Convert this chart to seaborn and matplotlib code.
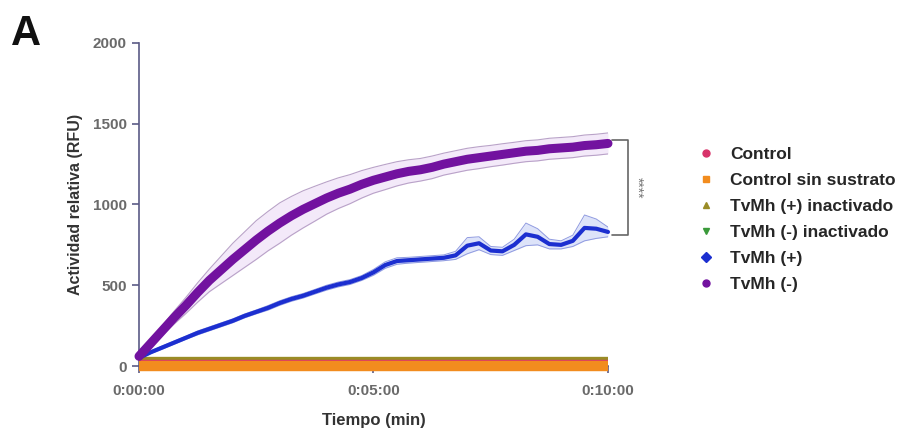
import numpy as np
import pandas as pd
import matplotlib
matplotlib.use("Agg")
import matplotlib.pyplot as plt
import seaborn as sns
from matplotlib.lines import Line2D

# ---- data ----
time_min = [0, 0.25, 0.5, 0.75, 1.0, 1.25, 1.5, 1.75, 2.0, 2.25, 2.5, 2.75, 3.0, 3.25,
            3.5, 3.75, 4.0, 4.25, 4.5, 4.75, 5.0, 5.25, 5.5, 5.75, 6.0, 6.25, 6.5, 6.75,
            7.0, 7.25, 7.5, 7.75, 8.0, 8.25, 8.5, 8.75, 9.0, 9.25, 9.5, 9.75, 10.0]

tvmh_minus = [60, 140, 220, 300, 375, 455, 530, 595, 660, 720, 780, 835, 885, 930,
              970, 1005, 1040, 1070, 1095, 1125, 1150, 1170, 1190, 1205, 1215, 1230, 1250, 1265,
              1280, 1290, 1300, 1310, 1320, 1330, 1335, 1345, 1350, 1355, 1365, 1370, 1378]
tvmh_minus_sd = [10, 20, 30, 40, 50, 60, 70, 85, 100, 110, 120, 122, 125, 120,
                 115, 108, 100, 95, 90, 85, 80, 78, 75, 72, 70, 70, 68, 68,
                 68, 68, 66, 66, 65, 65, 65, 65, 65, 65, 65, 65, 65]

tvmh_plus = [50, 85, 115, 145, 175, 205, 230, 255, 280, 310, 335, 360, 390, 415,
             435, 460, 485, 505, 520, 545, 580, 625, 650, 655, 660, 665, 670, 685,
             745, 760, 715, 710, 750, 815, 800, 755, 750, 775, 855, 850, 830]
tvmh_plus_sd = [5, 8, 10, 10, 10, 12, 12, 12, 12, 12, 12, 14, 14, 14,
                14, 14, 15, 15, 15, 15, 18, 20, 20, 18, 18, 18, 18, 25,
                50, 40, 25, 25, 35, 70, 50, 30, 25, 35, 80, 60, 30]

flat_time = [0, 2.5, 5.0, 7.5, 10.0]
control = [10, 10, 10, 10, 10]
control_sin_sustrato = [0, 0, 0, 0, 0]
tvmh_plus_inact = [32, 32, 32, 32, 32]
tvmh_minus_inact = [25, 25, 25, 25, 25]

series_names = ["Control", "Control sin sustrato", "TvMh (+) inactivado",
                "TvMh (-) inactivado", "TvMh (+)", "TvMh (-)"]
colors = ["#d8336a", "#f28c1e", "#9a8c26", "#3a9a3a", "#1c2fd0", "#72129f"]
markers = ["o", "s", "^", "v", "D", "o"]

x_ticks = [0, 5, 10]
x_ticklabels = ["0:00:00", "0:05:00", "0:10:00"]
y_ticks = [0, 500, 1000, 1500, 2000]

# ---- figure ----
sns.set_style("ticks")
plt.rcParams["font.family"] = ["Liberation Sans", "DejaVu Sans"]

fig = plt.figure(figsize=(9.23, 4.43), dpi=100)
ax = fig.add_axes([0.1506, 0.1738, 0.5081, 0.7292])

flat_df = pd.DataFrame({
    "t": flat_time * 4,
    "v": tvmh_minus_inact + tvmh_plus_inact + control + control_sin_sustrato,
    "s": (["TvMh (-) inactivado"] * 5 + ["TvMh (+) inactivado"] * 5 +
          ["Control"] * 5 + ["Control sin sustrato"] * 5),
})
flat_order = [("TvMh (-) inactivado", 6), ("TvMh (+) inactivado", 6),
              ("Control", 6), ("Control sin sustrato", 7.5)]
for name, lw in flat_order:
    sub = flat_df[flat_df["s"] == name]
    c = colors[series_names.index(name)]
    sns.lineplot(data=sub, x="t", y="v", ax=ax, color=c, linewidth=lw,
                 solid_capstyle="butt", legend=False, clip_on=False, zorder=3)

t = np.array(time_min)
# TvMh (+) with SD band
pm = np.array(tvmh_plus); ps = np.array(tvmh_plus_sd)
ax.fill_between(t, pm - ps, pm + ps, color="#9fb0f0", alpha=0.35, lw=0, zorder=4)
ax.plot(t, pm + ps, color="#8f9ae0", lw=0.7, zorder=4)
ax.plot(t, pm - ps, color="#8f9ae0", lw=0.7, zorder=4)
sns.lineplot(x=t, y=pm, ax=ax, color=colors[4], linewidth=3.0, legend=False,
             clip_on=False, zorder=5)

# TvMh (-) with SD band
mm = np.array(tvmh_minus); ms = np.array(tvmh_minus_sd)
ax.fill_between(t, mm - ms, mm + ms, color="#d9b8ec", alpha=0.3, lw=0, zorder=4)
ax.plot(t, mm + ms, color="#b9a2c8", lw=0.8, zorder=4)
ax.plot(t, mm - ms, color="#b9a2c8", lw=0.8, zorder=4)
sns.lineplot(x=t, y=mm, ax=ax, color=colors[5], linewidth=6.5, legend=False,
             clip_on=False, zorder=6, solid_capstyle="round")

# axes styling
ax.set_xlim(0, 10)
ax.set_ylim(0, 2000)
ax.set_xticks(x_ticks)
ax.set_xticklabels(x_ticklabels)
ax.set_xticks(np.arange(0, 11, 1), minor=True)
ax.set_yticks(y_ticks)
ax.set_yticklabels([str(v) for v in y_ticks])
axis_col = "#5b5b86"
for sp in ["left", "bottom"]:
    ax.spines[sp].set_color(axis_col)
    ax.spines[sp].set_linewidth(1.2)
sns.despine(ax=ax)
ax.tick_params(axis="both", which="major", colors=axis_col, labelcolor="#6a6a6a",
               labelsize=11, length=5, width=1.2)
ax.tick_params(axis="x", which="minor", colors=axis_col, length=3, width=1.0)
ax.tick_params(axis="x", which="major", pad=8)
ax.tick_params(axis="y", which="major", pad=4)
for lab in ax.get_xticklabels() + ax.get_yticklabels():
    lab.set_fontweight("bold")
ax.set_xlabel("Tiempo (min)", fontsize=12, fontweight="bold", color="#333333", labelpad=11)
ax.set_ylabel("Actividad relativa (RFU)", fontsize=11.5, fontweight="bold", color="#333333",
              labelpad=7)

# significance bracket
bx0, bx1 = 10.08, 10.42
ytop, ybot = 1400, 810
ax.plot([bx0, bx1, bx1, bx0], [ytop, ytop, ybot, ybot], color="#666666", lw=1.2,
        clip_on=False, zorder=7)
ax.text(10.62, (ytop + ybot) / 2, "****", rotation=270, ha="center", va="center",
        fontsize=10, color="#777777", clip_on=False)

# legend
handles = [Line2D([0], [0], marker=m, color=c, linestyle="none", markersize=5)
           for m, c in zip(markers, colors)]
fig.legend(handles, series_names, loc="upper left", bbox_to_anchor=(0.733, 0.703),
           frameon=False, handletextpad=0.6, labelspacing=0.62, handlelength=1.6,
           prop={"weight": "bold", "size": 12.5})

fig.text(0.012, 0.898, "A", fontsize=30, fontweight="bold", color="#111111")

fig.savefig("out.png", dpi=100)
